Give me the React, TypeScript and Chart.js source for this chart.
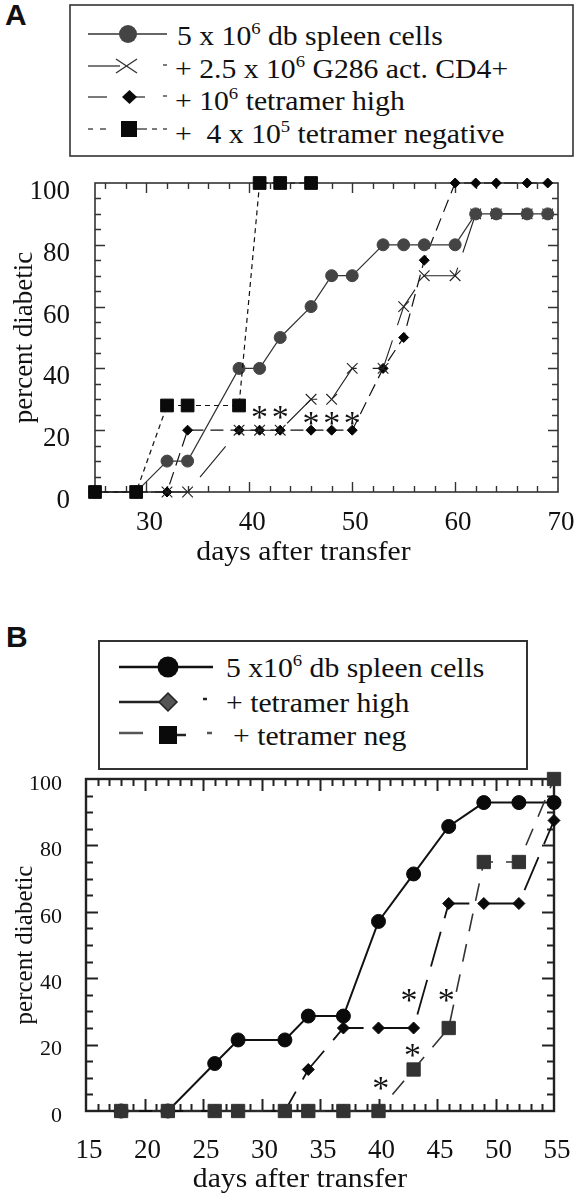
import React, { useEffect, useRef } from 'react';
import { Chart, registerables } from 'chart.js';

Chart.register(...registerables);

const SERIF = "'Liberation Serif', 'Times New Roman', Times, serif";
const SANS = "'Liberation Sans', Arial, Helvetica, sans-serif";

// ---------------- Panel A data ----------------
const daysA = [25, 29, 32, 34, 39, 41, 43, 46, 48, 50, 53, 55, 57, 60, 62, 64, 67, 69];
const spleenA = [0, 0, 10, 10, 40, 40, 50, 60, 70, 70, 80, 80, 80, 80, 90, 90, 90, 90];
const g286A = [0, 0, 0, 0, 20, 20, 20, 30, 30, 40, 40, 60, 70, 70, 90, 90, 90, 90];
const tetHighA = [0, 0, 0, 20, 20, 20, 20, 20, 20, 20, 40, 50, 75, 100, 100, 100, 100, 100];
const tetNegDaysA = [25, 29, 32, 34, 39, 41, 43, 46];
const tetNegA = [0, 0, 28, 28, 28, 100, 100, 100];
const xTicksA = [30, 40, 50, 60, 70];
const yTicksA = [0, 20, 40, 60, 80, 100];
const starDaysA = [41, 43, 46, 48, 50];
const starValsA = [26, 26, 24, 24, 24];

// ---------------- Panel B data ----------------
const daysB = [18, 22, 26, 28, 32, 34, 37, 40, 43, 46, 49, 52, 55];
const spleenB = [0, 0, 14.3, 21.4, 21.4, 28.6, 28.6, 57.1, 71.4, 85.7, 92.9, 92.9, 92.9];
const tetHighB = [0, 0, 0, 0, 0, 12.5, 25, 25, 25, 62.5, 62.5, 62.5, 87.5];
const tetNegB = [0, 0, 0, 0, 0, 0, 0, 0, 12.5, 25, 75, 75, 100];
const xTicksB = [15, 20, 25, 30, 35, 40, 45, 50, 55];
const yTicksB = [0, 20, 40, 60, 80, 100];
const starDaysB = [40.2, 42.9, 42.6, 45.8];
const starValsB = [8.5, 18.5, 35, 35];

const xTitle = 'days after transfer';
const yTitle = 'percent diabetic';

const pts = (days: number[], vals: number[]) => days.map((d, i) => ({ x: d, y: vals[i] }));

const framePlugin = {
  id: 'frameTicks',
  beforeDatasetsDraw(chart: any, _a: any, o: any) {
    const { ctx, chartArea } = chart;
    const { left, right, top, bottom } = chartArea;
    const xs = chart.scales.x;
    const ys = chart.scales.y;
    ctx.save();
    ctx.strokeStyle = o.color;
    ctx.lineWidth = o.tickWidth;
    ctx.beginPath();
    for (let v = Math.ceil(xs.min / o.xMinor) * o.xMinor; v < xs.max; v += o.xMinor) {
      if (v <= xs.min) continue;
      const len = o.xMajor.includes(v) ? o.majorLen : o.minorLen;
      const px = Math.round(xs.getPixelForValue(v)) + 0.5;
      ctx.moveTo(px, bottom);
      ctx.lineTo(px, bottom - len);
      ctx.moveTo(px, top);
      ctx.lineTo(px, top + len);
    }
    for (let v = Math.ceil(ys.min / o.yMinor) * o.yMinor; v < ys.max; v += o.yMinor) {
      if (v <= ys.min) continue;
      const len = o.yMajor.includes(v) ? o.majorLen : o.minorLen;
      const py = Math.round(ys.getPixelForValue(v)) + 0.5;
      ctx.moveTo(left, py);
      ctx.lineTo(left + len, py);
      ctx.moveTo(right, py);
      ctx.lineTo(right - len, py);
    }
    ctx.stroke();
    ctx.lineWidth = o.frameWidth;
    ctx.strokeRect(left, top, right - left, bottom - top);
    ctx.restore();
  },
  afterDatasetsDraw(chart: any, _a: any, o: any) {
    const { ctx, chartArea } = chart;
    const xs = chart.scales.x;
    const ys = chart.scales.y;
    ctx.save();
    ctx.fillStyle = '#111';
    ctx.textAlign = 'center';
    ctx.textBaseline = 'alphabetic';
    ctx.font = `${o.starSize}px ${SERIF}`;
    o.starX.forEach((d: number, i: number) => {
      const px = xs.getPixelForValue(d);
      const py = ys.getPixelForValue(o.starY[i]);
      ctx.fillText('*', px, py + o.starSize * 0.47);
    });
    ctx.font = `${o.titleSize}px ${SERIF}`;
    ctx.translate((chartArea.left + chartArea.right) / 2 + o.titleDx, chartArea.bottom + o.titleDy);
    ctx.scale(1.1, 1);
    ctx.fillText(o.title, 0, 0);
    ctx.restore();
  },
};

function makeChart(canvas: HTMLCanvasElement, cfg: any) {
  const tickFont = (size: number) => ({ family: SERIF, size });
  return new Chart(canvas, {
    type: 'line',
    data: { datasets: cfg.datasets },
    plugins: [framePlugin],
    options: {
      animation: false,
      responsive: false,
      maintainAspectRatio: false,
      layout: { padding: cfg.padding },
      plugins: {
        legend: { display: false },
        tooltip: { enabled: false },
        frameTicks: cfg.frame,
      } as any,
      scales: {
        x: {
          type: 'linear',
          min: cfg.xMin,
          max: cfg.xMax,
          afterBuildTicks: (s: any) => {
            s.ticks = cfg.xTicks.map((v: number) => ({ value: v }));
          },
          afterFit: (s: any) => {
            s.height = cfg.xHeight;
            s.paddingLeft = 0;
            s.paddingRight = 0;
          },
          grid: { display: false },
          border: { display: false },
          ticks: {
            font: tickFont(cfg.xFont),
            color: '#111',
            padding: cfg.xPad,
            labelOffset: cfg.xLabelOffset,
            maxRotation: 0,
            autoSkip: false,
          },
        },
        y: {
          type: 'linear',
          min: 0,
          max: 100,
          afterBuildTicks: (s: any) => {
            s.ticks = cfg.yTicks.map((v: number) => ({ value: v }));
          },
          afterFit: (s: any) => {
            s.width = cfg.yWidth;
            s.paddingTop = 0;
            s.paddingBottom = 0;
          },
          grid: { display: false },
          border: { display: false },
          ticks: {
            font: tickFont(cfg.yFont),
            color: '#111',
            padding: cfg.yPad,
            labelOffset: cfg.yLabelOffset,
            autoSkip: false,
          },
          title: {
            display: true,
            text: yTitle,
            color: '#111',
            font: { family: SERIF, size: cfg.yTitleSize },
            padding: { top: cfg.yTitlePad, bottom: 0 },
          },
        },
      },
    } as any,
  });
}

function App() {
  const refA = useRef<HTMLCanvasElement>(null);
  const refB = useRef<HTMLCanvasElement>(null);

  useEffect(() => {
    const base = { fill: false, tension: 0, clip: false, pointHoverRadius: 0 };
    const chartA = makeChart(refA.current!, {
      padding: { top: 18, right: 22, left: 0, bottom: 0 },
      xMin: 25,
      xMax: 70,
      xTicks: xTicksA,
      yTicks: yTicksA,
      xHeight: 93,
      yWidth: 95,
      xFont: 27,
      yFont: 27,
      xPad: 7,
      yPad: 17,
      xLabelOffset: 3,
      yLabelOffset: 9,
      yTitleSize: 27,
      yTitlePad: 9,
      frame: {
        color: '#333',
        tickWidth: 1.4,
        frameWidth: 1.6,
        majorLen: 10,
        minorLen: 6,
        xMajor: xTicksA,
        yMajor: yTicksA,
        xMinor: 2,
        yMinor: 5,
        starX: starDaysA,
        starY: starValsA,
        starSize: 34,
        title: xTitle,
        titleSize: 27,
        titleDx: -23,
        titleDy: 68,
      },
      datasets: [
        {
          ...base,
          label: '+ 4 x 10^5 tetramer negative',
          data: pts(tetNegDaysA, tetNegA),
          borderColor: '#111',
          borderWidth: 1.2,
          borderDash: [5, 4],
          pointStyle: 'rect',
          pointRadius: 9,
          pointBackgroundColor: '#0a0a0a',
          pointBorderColor: '#0a0a0a',
          pointBorderWidth: 1,
          order: 0,
        },
        {
          ...base,
          label: '5 x 10^6 db spleen cells',
          data: pts(daysA, spleenA),
          borderColor: '#333',
          borderWidth: 1.2,
          pointStyle: 'circle',
          pointRadius: 6,
          pointBackgroundColor: '#444',
          pointBorderColor: '#444',
          pointBorderWidth: 1,
          order: 1,
        },
        {
          ...base,
          label: '+ 2.5 x 10^6 G286 act. CD4+',
          data: pts(daysA, g286A),
          borderColor: '#222',
          borderWidth: 1.1,
          borderDash: [40, 16],
          pointStyle: 'crossRot',
          pointRadius: 7.5,
          pointBackgroundColor: '#222',
          pointBorderColor: '#222',
          pointBorderWidth: 1.1,
          order: 2,
        },
        {
          ...base,
          label: '+ 10^6 tetramer high',
          data: pts(daysA, tetHighA),
          borderColor: '#111',
          borderWidth: 1.2,
          borderDash: [13, 7],
          pointStyle: 'rectRot',
          pointRadius: 5,
          pointBackgroundColor: '#050505',
          pointBorderColor: '#050505',
          pointBorderWidth: 1,
          order: 3,
        },
      ],
    });

    const chartB = makeChart(refB.current!, {
      padding: { top: 19, right: 26, left: 0, bottom: 0 },
      xMin: 15,
      xMax: 55,
      xTicks: xTicksB,
      yTicks: yTicksB,
      xHeight: 88,
      yWidth: 86,
      xFont: 27,
      yFont: 22,
      xPad: 16,
      yPad: 16,
      xLabelOffset: 3,
      yLabelOffset: 5,
      yTitleSize: 25,
      yTitlePad: 10,
      frame: {
        color: '#222',
        tickWidth: 2,
        frameWidth: 2.4,
        majorLen: 12,
        minorLen: 7,
        xMajor: xTicksB,
        yMajor: yTicksB,
        xMinor: 1,
        yMinor: 5,
        starX: starDaysB,
        starY: starValsB,
        starSize: 34,
        title: xTitle,
        titleSize: 27,
        titleDx: -20,
        titleDy: 76,
      },
      datasets: [
        {
          ...base,
          label: '+ tetramer neg',
          data: pts(daysB, tetNegB),
          borderColor: '#333',
          borderWidth: 1.6,
          borderDash: [18, 13],
          pointStyle: 'rect',
          pointRadius: 9.4,
          pointBackgroundColor: '#333',
          pointBorderColor: '#333',
          pointBorderWidth: 1,
          order: 0,
        },
        {
          ...base,
          label: '5 x10^6 db spleen cells',
          data: pts(daysB, spleenB),
          borderColor: '#111',
          borderWidth: 2,
          pointStyle: 'circle',
          pointRadius: 7,
          pointBackgroundColor: '#0a0a0a',
          pointBorderColor: '#0a0a0a',
          pointBorderWidth: 1,
          order: 1,
        },
        {
          ...base,
          label: '+ tetramer high',
          data: pts(daysB, tetHighB),
          borderColor: '#111',
          borderWidth: 1.8,
          borderDash: [36, 14],
          pointStyle: 'rectRot',
          pointRadius: 6,
          pointBackgroundColor: '#0a0a0a',
          pointBorderColor: '#0a0a0a',
          pointBorderWidth: 1,
          order: 2,
        },
      ],
    });

    return () => {
      chartA.destroy();
      chartB.destroy();
    };
  }, []);

  const txt = { fontFamily: SERIF, fontSize: 27, fill: '#111', whiteSpace: 'pre' } as any;
  const row = (x: number, y: number, a: string, s: string, b: string) => (
    <text transform={`translate(${x},${y}) scale(1.1,1)`} style={txt}>
      <tspan>{a}</tspan>
      <tspan dy={-11} fontSize={17}>
        {s}
      </tspan>
      <tspan dy={11}>{b}</tspan>
    </text>
  );
  const plain = (x: number, y: number, a: string) => (
    <text transform={`translate(${x},${y}) scale(1.1,1)`} style={txt}>
      {a}
    </text>
  );

  return (
    <div
      style={{
        position: 'absolute',
        left: 0,
        top: 0,
        width: 580,
        height: 1199,
        background: '#fff',
        overflow: 'hidden',
      }}
    >
      <svg width={580} height={1199} style={{ position: 'absolute', left: 0, top: 0 }}>
        <text x={5} y={25} style={{ fontFamily: SANS, fontSize: 30, fontWeight: 700, fill: '#111' }}>
          A
        </text>
        <text x={6} y={647} style={{ fontFamily: SANS, fontSize: 30, fontWeight: 700, fill: '#111' }}>
          B
        </text>

        {/* Legend A */}
        <rect x={70} y={5} width={503} height={151} fill="none" stroke="#333" strokeWidth={1.6} />
        <g stroke="#333" strokeWidth={1.3} fill="none">
          <line x1={88} y1={34} x2={167} y2={34} />
          <line x1={88} y1={66} x2={120} y2={66} />
          <line x1={116} y1={59} x2={137} y2={73} />
          <line x1={116} y1={73} x2={137} y2={59} />
          <line x1={163} y1={65} x2={167} y2={65} />
          <line x1={88} y1={97} x2={107} y2={97} />
          <line x1={130} y1={97} x2={145} y2={97} />
          <line x1={163} y1={96} x2={167} y2={96} />
          <line x1={88} y1={129} x2={93} y2={129} />
          <line x1={100} y1={129} x2={106} y2={129} />
          <line x1={137} y1={129} x2={147} y2={129} />
          <line x1={152} y1={129} x2={157} y2={129} />
          <line x1={163} y1={129} x2={167} y2={129} />
        </g>
        <circle cx={128} cy={34} r={9} fill="#444" />
        <polygon points="122,97 129.5,90 137,97 129.5,104" fill="#0a0a0a" />
        <rect x={121} y={121} width={16} height={16} fill="#0a0a0a" />
        {row(177, 45, '5 x 10', '6', ' db spleen cells')}
        {row(175, 78, '+ 2.5 x 10', '6', ' G286 act. CD4+')}
        {row(175, 110, '+ 10', '6', ' tetramer high')}
        {row(175, 143, '+  4 x 10', '5', ' tetramer negative')}

        {/* Legend B */}
        <rect x={99} y={641} width={428} height={128} fill="none" stroke="#333" strokeWidth={2} />
        <g strokeWidth={2.5} fill="none">
          <line x1={119} y1={667} x2={213} y2={667} stroke="#111" />
          <line x1={119} y1={702} x2={162} y2={702} stroke="#222" />
          <line x1={203} y1={699} x2={207} y2={699} stroke="#222" />
          <line x1={119} y1={733} x2={143} y2={733} stroke="#555" />
          <line x1={176} y1={735} x2={186} y2={735} stroke="#222" />
          <line x1={207} y1={733} x2={212} y2={733} stroke="#555" />
        </g>
        <circle cx={168} cy={667} r={10.5} fill="#0a0a0a" />
        <polygon points="159,702 168,693 177,702 168,711" fill="#555" stroke="#222" strokeWidth={1.5} />
        <rect x={159} y={726} width={18} height={18} fill="#0a0a0a" />
        {row(226, 677, '5 x10', '6', ' db spleen cells')}
        {plain(226, 712, '+ tetramer high')}
        {plain(233, 745, '+ tetramer neg')}
      </svg>

      <canvas
        ref={refA}
        width={580}
        height={420}
        style={{ position: 'absolute', left: 0, top: 165, width: 580, height: 420 }}
      />
      <canvas
        ref={refB}
        width={580}
        height={439}
        style={{ position: 'absolute', left: 0, top: 760, width: 580, height: 439 }}
      />
    </div>
  );
}

export default App;
